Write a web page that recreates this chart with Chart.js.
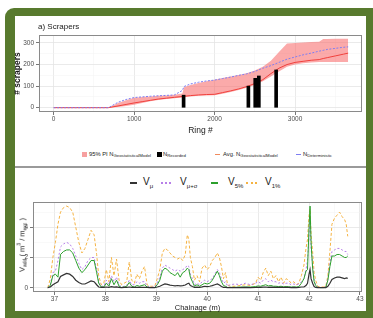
<!DOCTYPE html>
<html>
<head>
<meta charset="utf-8">
<script src="https://cdn.jsdelivr.net/npm/chart.js@4.4.0/dist/chart.umd.min.js"></script>
<style>
body { margin:0; width:373px; height:318px; background:#fff; position:relative; overflow:hidden;
       font-family:"Liberation Sans", Arial, sans-serif; color:#1a1a1a; }
#frame { position:absolute; left:5px; top:8px; width:368px; height:310px; background:#587a2e; border-top-left-radius:9px; }
#inner { position:absolute; left:15px; top:16px; width:351px; height:295px; background:#fff; }
#sep { position:absolute; left:15px; top:166px; width:351px; height:2px; background:#9a9a9a; }
canvas { position:absolute; }
#c1 { left:8px; top:16px; }
#c2 { left:8px; top:192px; }
.abs { position:absolute; white-space:nowrap; line-height:1; }
.leg1 { font-size:5.8px; color:#222; }
.leg1 sub { font-size:4.3px; vertical-align:-1px; }
.leg2 { font-size:10px; color:#222; }
.leg2 sub { font-size:6px; vertical-align:-3px; }
.key { position:absolute; }
</style>
</head>
<body>
<div id="frame"></div>
<div id="inner"></div>
<div id="sep"></div>
<canvas id="c1" width="358" height="124"></canvas>
<canvas id="c2" width="358" height="120"></canvas>

<div class="abs" style="left:38px; top:23px; font-size:8px;">a) Scrapers</div>

<div class="key" style="left:82px; top:152px; width:5px; height:5px; background:#f7a0a0;"></div>
<div class="abs leg1" style="left:89px; top:152px;">95% PI N<sub>GeostatisticalModel</sub></div>
<div class="key" style="left:157px; top:152px; width:5px; height:5px; background:#000;"></div>
<div class="abs leg1" style="left:163px; top:152px;">N<sub>Recorded</sub></div>
<div class="key" style="left:215px; top:154px; width:5px; height:1px; background:#f08a5d;"></div>
<div class="abs leg1" style="left:223px; top:152px;">Avg. N<sub>GeostatisticalModel</sub></div>
<div class="key" style="left:296px; top:154px; width:5px; height:1px; background:#7d7df2;"></div>
<div class="abs leg1" style="left:303px; top:152px;">N<sub>Deterministic</sub></div>

<div class="key" style="left:130px; top:182px; width:7px; height:2px; background:#333;"></div>
<div class="abs leg2" style="left:143px; top:177px;">V<sub>μ</sub></div>
<div class="key" style="left:161px; top:182px; width:10px; height:0; border-top:2px dotted #b77fe8;"></div>
<div class="abs leg2" style="left:180px; top:177px;">V<sub>μ+σ</sub></div>
<div class="key" style="left:211px; top:182px; width:7px; height:2px; background:#2ca02c;"></div>
<div class="abs leg2" style="left:228px; top:177px;">V<sub>5%</sub></div>
<div class="key" style="left:246px; top:182px; width:11px; height:0; border-top:2px dotted #f5b342;"></div>
<div class="abs leg2" style="left:265px; top:177px;">V<sub>1%</sub></div>

<div class="abs" style="left:22px; top:245px; font-size:7.5px; transform:translate(-50%,-50%) rotate(-90deg);">V<sub style="font-size:5px">add</sub> ( m<sup style="font-size:5px">3</sup> / m<sub style="font-size:5px">exc</sub> )</div>

<script>
// ---- a) Scrapers ----
const rings = [0, 680, 800, 900, 1000, 1100, 1200, 1300, 1400, 1500, 1600, 1620, 1700, 1800, 1900, 2000, 2100,
  2200, 2300, 2400, 2500, 2600, 2700, 2800, 2900, 3000, 3100, 3200, 3300, 3350, 3400, 3500, 3600, 3660];
const piUpper = [0, 0, 22, 35, 46, 49, 52, 55, 57, 60, 66, 95, 105, 114, 122, 130, 138,
  145, 152, 160, 172, 190, 218, 258, 298, 300, 302, 304, 306, 318, 318, 320, 320, 320];
const piLower = [0, 0, 3, 8, 14, 22, 30, 36, 40, 44, 47, 48, 52, 55, 57, 58, 65,
  73, 82, 92, 105, 122, 145, 168, 190, 200, 206, 210, 212, 212, 212, 212, 212, 212];
const avgGeo = [0, 0, 8, 15, 22, 28, 34, 40, 44, 48, 52, 53, 56, 59, 61, 62, 70,
  78, 87, 98, 112, 130, 158, 183, 200, 210, 215, 220, 223, 228, 232, 240, 248, 253];
const nDet = [0, 0, 25, 38, 47, 50, 53, 55, 57, 59, 80, 98, 110, 118, 124, 128, 135,
  142, 150, 157, 168, 183, 195, 210, 225, 235, 245, 253, 262, 266, 270, 275, 280, 282];
const recRings = [1615, 2420, 2505, 2550, 2765];
const recCounts = [58, 100, 136, 147, 175];
const ringTicks = [0, 500, 1000, 1500, 2000, 2500, 3000, 3500];
const scraperTicks = [0, 50, 100, 150, 200, 250, 300];

// ---- V_add along chainage ----
const chainage = [
  36.87, 36.92, 36.97, 37.02, 37.07, 37.12, 37.18, 37.24, 37.30, 37.36, 37.42, 37.48, 37.54, 37.60, 37.66, 37.72, 37.78, 37.83, 37.87, 37.92,
  37.97, 38.02, 38.07, 38.12, 38.17, 38.22, 38.27, 38.32, 38.37, 38.42, 38.47, 38.52, 38.57, 38.62, 38.67, 38.72, 38.77, 38.82, 38.87, 38.92,
  38.97, 39.02, 39.07, 39.12, 39.17, 39.22, 39.27, 39.32, 39.37, 39.42, 39.47, 39.52, 39.57, 39.61, 39.64, 39.67, 39.71, 39.75, 39.80, 39.85, 39.90, 39.95, 40.00, 40.05, 40.10, 40.15, 40.20, 40.24, 40.28, 40.32, 40.36, 40.40,
  40.45, 40.55, 40.65, 40.75, 40.85, 40.95, 41.00, 41.05, 41.10, 41.15, 41.20, 41.25, 41.30, 41.35, 41.40, 41.45, 41.50, 41.55, 41.60, 41.65, 41.70, 41.75, 41.80, 41.85,
  41.90, 41.94, 41.97, 42.00, 42.02, 42.04, 42.07, 42.10, 42.13, 42.17, 42.22, 42.28, 42.33, 42.37, 42.41, 42.45, 42.50, 42.55, 42.60, 42.65, 42.70, 42.73, 42.76];
const v1 = [
  0.0, 0.6, 2.0, 3.0, 4.2, 5.0, 5.3, 5.4, 5.3, 5.0, 4.0, 3.0, 2.3, 2.6, 3.2, 3.8, 3.5, 2.2, 0.8, 0.2,
  0.3, 1.2, 0.4, 2.0, 0.8, 1.9, 0.5, 0.2, 0.3, 0.4, 1.7, 0.5, 0.3, 0.9, 0.6, 1.1, 1.4, 0.2, 0.1, 0.1,
  0.1, 0.6, 1.2, 2.3, 2.6, 2.5, 2.3, 2.1, 2.0, 1.9, 2.0, 1.8, 2.2, 3.5, 3.2, 2.0, 1.4, 0.5, 0.8, 0.4, 1.3, 1.5, 1.2, 1.4, 1.8, 2.0, 2.3, 2.0, 1.4, 0.6, 1.0, 0.2,
  0.1, 0.1, 0.15, 0.2, 0.15, 0.3, 0.7, 0.5, 1.0, 1.3, 0.8, 1.1, 0.6, 0.8, 0.4, 0.7, 0.3, 0.6, 0.5, 0.3, 0.4, 0.2, 0.3, 0.8,
  1.5, 2.6, 3.2, 4.8, 5.2, 3.5, 2.4, 1.0, 0.5, 0.1, 0.05, 0.05, 0.1, 0.8, 2.4, 4.2, 4.6, 4.8, 5.0, 4.7, 4.5, 4.2, 3.4];
const vMuSigma = [
  0.0, 0.2, 1.0, 1.1, 1.8, 2.7, 2.9, 3.0, 2.9, 2.6, 2.1, 1.6, 1.2, 1.4, 1.8, 2.0, 2.0, 1.2, 0.4, 0.1,
  0.1, 0.5, 0.2, 0.8, 0.4, 0.7, 0.2, 0.05, 0.1, 0.15, 0.5, 0.2, 0.2, 0.4, 0.3, 0.4, 0.4, 0.1, 0.05, 0.05,
  0.05, 0.3, 0.7, 1.3, 1.5, 1.4, 1.3, 1.2, 1.1, 1.2, 1.1, 1.2, 1.3, 1.5, 1.4, 0.9, 0.6, 0.2, 0.3, 0.2, 0.4, 0.5, 0.4, 0.5, 0.6, 0.9, 1.2, 1.0, 0.6, 0.3, 0.4, 0.1,
  0.2, 0.25, 0.2, 0.3, 0.2, 0.3, 0.4, 0.3, 0.5, 0.6, 0.4, 0.5, 0.4, 0.4, 0.3, 0.35, 0.25, 0.3, 0.3, 0.2, 0.25, 0.2, 0.25, 0.4,
  0.6, 1.2, 1.8, 3.5, 4.5, 2.6, 1.5, 0.5, 0.2, 0.05, 0.02, 0.02, 0.05, 0.6, 1.6, 2.4, 2.5, 2.6, 2.6, 2.5, 2.4, 2.4, 2.2];
const v5 = [
  0.0, 0.15, 0.8, 0.9, 0.7, 2.2, 2.4, 2.5, 2.5, 2.3, 1.8, 1.3, 1.0, 1.2, 1.5, 1.8, 1.8, 1.0, 0.3, 0.05,
  0.05, 0.3, 0.1, 0.6, 0.2, 0.5, 0.1, 0.02, 0.05, 0.1, 0.35, 0.1, 0.05, 0.15, 0.1, 0.15, 0.2, 0.05, 0.02, 0.02,
  0.02, 0.2, 0.5, 1.1, 1.3, 1.2, 1.0, 0.9, 0.8, 1.0, 0.7, 1.0, 1.1, 1.3, 1.2, 0.7, 0.4, 0.1, 0.2, 0.1, 0.2, 0.3, 0.25, 0.3, 0.5, 0.8, 1.1, 0.8, 0.4, 0.15, 0.1, 0.02,
  0.03, 0.03, 0.05, 0.05, 0.05, 0.08, 0.12, 0.1, 0.15, 0.2, 0.12, 0.15, 0.1, 0.1, 0.08, 0.1, 0.06, 0.08, 0.07, 0.05, 0.06, 0.05, 0.08, 0.3,
  0.6, 1.1, 1.2, 4.0, 5.4, 3.0, 1.3, 0.4, 0.15, 0.03, 0.01, 0.01, 0.03, 0.5, 1.4, 2.1, 2.1, 2.2, 2.2, 2.1, 2.0, 2.0, 2.1];
const vMu = [
  0.0, 0.05, 0.2, 0.3, 0.4, 0.75, 0.85, 0.95, 0.9, 0.75, 0.5, 0.35, 0.25, 0.25, 0.35, 0.45, 0.4, 0.2, 0.05, 0.02,
  0.02, 0.05, 0.03, 0.08, 0.04, 0.06, 0.03, 0.01, 0.02, 0.02, 0.05, 0.02, 0.02, 0.03, 0.02, 0.03, 0.03, 0.02, 0.01, 0.01,
  0.01, 0.05, 0.1, 0.18, 0.25, 0.22, 0.18, 0.15, 0.12, 0.15, 0.12, 0.14, 0.18, 0.27, 0.3, 0.15, 0.08, 0.03, 0.04, 0.03, 0.06, 0.1, 0.08, 0.1, 0.14, 0.2, 0.25, 0.18, 0.08, 0.03, 0.03, 0.01,
  0.01, 0.01, 0.01, 0.02, 0.01, 0.02, 0.03, 0.02, 0.04, 0.05, 0.03, 0.04, 0.03, 0.03, 0.02, 0.02, 0.02, 0.02, 0.02, 0.01, 0.02, 0.01, 0.02, 0.05,
  0.05, 0.15, 0.3, 0.9, 1.2, 0.6, 0.3, 0.08, 0.03, 0.01, 0.01, 0.01, 0.01, 0.1, 0.3, 0.55, 0.65, 0.7, 0.7, 0.65, 0.6, 0.65, 0.62];
const chainageTicks = [37, 37.5, 38, 38.5, 39, 39.5, 40, 40.5, 41, 41.5, 42, 42.5, 43];
const vTicks = [0, 1, 2, 3, 4, 5];

const pts = (xs, ys) => xs.map((x, i) => ({ x: x, y: ys[i] }));

// grey frame around the plot panel, like theme_bw
const panelBorder = {
  id: 'panelBorder',
  afterDraw(chart) {
    const a = chart.chartArea, c = chart.ctx;
    c.save();
    c.strokeStyle = '#8a8a8a';
    c.lineWidth = 1;
    c.strokeRect(a.left + 0.5, a.top + 0.5, a.right - a.left - 1, a.bottom - a.top - 1);
    c.restore();
  }
};

// linear axis with fixed ticks; only "major" ones get a label and a tick mark
function axis(min, max, tickVals, isMajor, pad, size, extra) {
  const base = {
    type: 'linear', min: min, max: max, offset: false,
    border: { display: false },
    afterBuildTicks: s => { s.ticks = tickVals.map(v => ({ value: v })); },
    ticks: {
      autoSkip: false, maxRotation: 0, padding: pad,
      color: '#4d4d4d', font: { size: 6.5 },
      callback: v => isMajor(v) ? String(v) : ''
    },
    grid: {
      offset: false,
      color: c => c.tick && isMajor(c.tick.value) ? '#e4e4e4' : '#f3f3f3',
      lineWidth: c => c.tick && isMajor(c.tick.value) ? 0.8 : 0.5,
      tickColor: c => c.tick && isMajor(c.tick.value) ? '#555' : 'rgba(0,0,0,0)',
      tickLength: 3
    },
    afterFit: size
  };
  return Object.assign(base, extra);
}

Chart.defaults.font.family = '"Liberation Sans", Arial, sans-serif';

new Chart(document.getElementById('c1'), {
  type: 'line',
  data: {
    datasets: [
      { type: 'bar', data: pts(recRings, recCounts), backgroundColor: '#000', borderWidth: 0, barThickness: 3 },
      { data: pts(rings, nDet), borderColor: '#7d7df2', borderDash: [2, 1.5], borderWidth: 1, pointRadius: 0 },
      { data: pts(rings, avgGeo), borderColor: '#f0403c', borderWidth: 1, pointRadius: 0 },
      { data: pts(rings, piUpper), borderWidth: 0, pointRadius: 0, fill: '+1', backgroundColor: 'rgba(248,100,100,0.55)' },
      { data: pts(rings, piLower), borderWidth: 0, pointRadius: 0 }
    ]
  },
  options: {
    responsive: false,
    animation: false,
    layout: { padding: { top: 19, right: 4, left: 0, bottom: 0 } },
    plugins: { legend: { display: false }, tooltip: { enabled: false } },
    elements: { line: { tension: 0 } },
    scales: {
      x: axis(-182, 3832, ringTicks, v => v % 1000 === 0, 0, s => { s.height = 28; }, {
        title: { display: true, text: 'Ring #', color: '#1a1a1a', font: { size: 8.5 }, padding: { top: 0, bottom: 4 } }
      }),
      y: axis(-20, 337, scraperTicks, v => v % 100 === 0, 2, s => { s.width = 31; }, {
        title: { display: true, text: '# scrapers', color: '#1a1a1a', font: { size: 8.5, weight: 'bold' }, padding: { top: 5, bottom: 0 } }
      })
    }
  },
  plugins: [panelBorder]
});

const isInt = v => Math.abs(v - Math.round(v)) < 1e-6;
new Chart(document.getElementById('c2'), {
  type: 'line',
  data: {
    datasets: [
      { data: pts(chainage, vMu), borderColor: '#333333', borderWidth: 1.2, pointRadius: 0 },
      { data: pts(chainage, v5), borderColor: '#2ca02c', borderWidth: 1, pointRadius: 0 },
      { data: pts(chainage, vMuSigma), borderColor: '#b77fe8', borderDash: [2, 2], borderWidth: 1, pointRadius: 0 },
      { data: pts(chainage, v1), borderColor: '#f5b342', borderDash: [3, 2], borderWidth: 1, pointRadius: 0 }
    ]
  },
  options: {
    responsive: false,
    animation: false,
    layout: { padding: { top: 10, right: 4, left: 0, bottom: 0 } },
    plugins: { legend: { display: false }, tooltip: { enabled: false } },
    elements: { line: { tension: 0 } },
    scales: {
      x: axis(36.58, 43.04, chainageTicks, isInt, 0, s => { s.height = 20; }, {
        title: { display: true, text: 'Chainage (m)', color: '#1a1a1a', font: { size: 7.5 }, padding: { top: 0, bottom: 0 } }
      }),
      y: axis(-0.28, 5.67, vTicks, v => isInt(v) && v % 2 === 0, 2, s => { s.width = 25; }, {})
    }
  },
  plugins: [panelBorder]
});
</script>
</body>
</html>
